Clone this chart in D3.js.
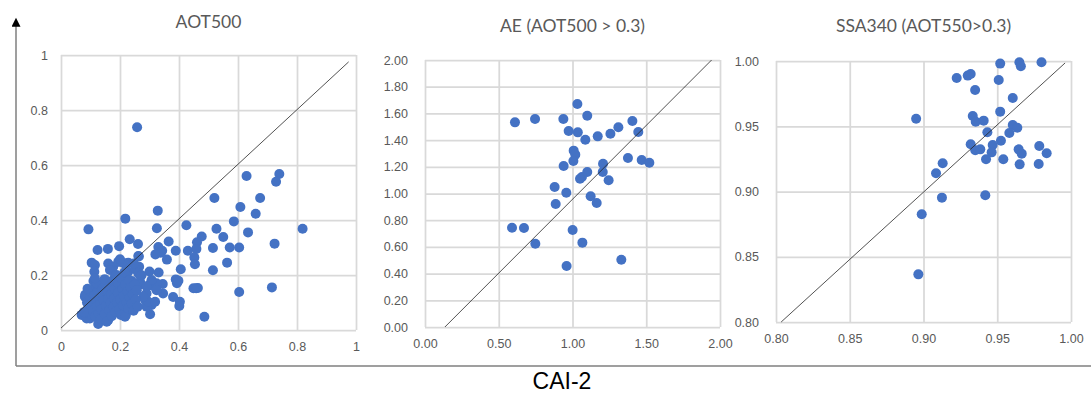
<!DOCTYPE html>
<html>
<head>
<meta charset="utf-8">
<script src="https://cdn.jsdelivr.net/npm/d3@7"></script>
<style>
  body { margin: 0; background: #fff; }
  svg { display: block; font-family: Lato, "Open Sans", sans-serif; }
  .tick text { fill: #595959; font-size: 12.5px; }
</style>
</head>
<body>
<svg id="chart" width="1091" height="394"></svg>
<script>
// panel titles and shared x-axis label
const titles = ['AOT500', 'AE (AOT500 > 0.3)', 'SSA340 (AOT550>0.3)']
const xLabel = 'CAI-2'

// tick values per panel
const aotTicks = [0, 0.2, 0.4, 0.6, 0.8, 1]
const aeXTicks = [0, 0.5, 1, 1.5, 2]
const aeYTicks = [0, 0.2, 0.4, 0.6, 0.8, 1, 1.2, 1.4, 1.6, 1.8, 2]
const ssaTicks = [0.8, 0.85, 0.9, 0.95, 1]

// reference lines
const aotLine = [[0, 0.007], [0.975, 0.975]]
const aeLine = [[0.135, 0], [1.943, 2.0]]
const ssaLine = [[0.8035, 0.8], [0.996, 0.9985]]

// AOT500: CAI-2 vs reference
const aotPoints = [
  [0.258,0.737],[0.629,0.560],[0.740,0.567],[0.729,0.539],[0.520,0.480],[0.675,0.480],
  [0.608,0.447],[0.660,0.423],[0.328,0.434],[0.586,0.395],[0.218,0.405],[0.093,0.366],
  [0.325,0.370],[0.425,0.381],[0.527,0.368],[0.819,0.368],[0.634,0.355],[0.550,0.338],
  [0.477,0.340],[0.461,0.319],[0.365,0.322],[0.724,0.314],[0.233,0.330],[0.261,0.313],
  [0.197,0.305],[0.159,0.295],[0.124,0.291],[0.572,0.300],[0.604,0.300],[0.515,0.298],
  [0.459,0.295],[0.430,0.288],[0.389,0.288],[0.330,0.302],[0.343,0.288],[0.338,0.281],
  [0.320,0.275],[0.452,0.264],[0.454,0.239],[0.563,0.245],[0.359,0.256],[0.406,0.221],
  [0.515,0.217],[0.458,0.152],[0.464,0.153],[0.449,0.152],[0.604,0.138],[0.715,0.155],
  [0.486,0.048],[0.346,0.133],[0.380,0.120],[0.403,0.103],[0.401,0.087],[0.393,0.170],
  [0.389,0.184],[0.398,0.179],[0.331,0.209],[0.300,0.213],[0.307,0.178],[0.300,0.164],
  [0.313,0.160],[0.345,0.167],[0.302,0.057],[0.285,0.109],[0.307,0.091],[0.290,0.085],
  [0.104,0.245],[0.115,0.236],[0.113,0.212],[0.160,0.242],[0.177,0.230],[0.166,0.218],
  [0.200,0.248],[0.183,0.200],[0.228,0.245],[0.228,0.212],[0.262,0.269],[0.265,0.230],
  [0.257,0.218],[0.220,0.182],[0.240,0.178],[0.268,0.200],[0.194,0.248],[0.217,0.242],
  [0.223,0.206],[0.251,0.224],[0.262,0.206],[0.206,0.188],[0.268,0.176],[0.081,0.121],
  [0.093,0.109],[0.070,0.055],[0.098,0.042],[0.126,0.022],[0.160,0.036],[0.220,0.055],
  [0.264,0.267],[0.247,0.242],[0.214,0.242],[0.200,0.257],[0.273,0.199],[0.265,0.164],
  [0.251,0.139],[0.240,0.109],[0.240,0.085],[0.290,0.133],[0.296,0.103],[0.319,0.103],
  [0.324,0.170],[0.324,0.145],[0.307,0.182],[0.290,0.158],[0.279,0.121],[0.223,0.133],
  [0.082,0.128],[0.088,0.100],[0.092,0.080],[0.087,0.042],[0.095,0.060],[0.098,0.118],
  [0.100,0.140],[0.078,0.065],[0.090,0.150],[0.105,0.095],[0.108,0.072],[0.112,0.125],
  [0.115,0.050],[0.118,0.160],[0.120,0.105],[0.122,0.085],[0.125,0.140],[0.128,0.060],
  [0.130,0.118],[0.110,0.178],[0.121,0.170],[0.115,0.188],[0.133,0.095],[0.135,0.040],
  [0.137,0.075],[0.140,0.150],[0.142,0.128],[0.145,0.108],[0.148,0.058],[0.150,0.170],
  [0.152,0.088],[0.155,0.030],[0.158,0.140],[0.160,0.115],[0.148,0.185],[0.163,0.072],
  [0.165,0.160],[0.168,0.098],[0.170,0.130],[0.172,0.050],[0.175,0.180],[0.178,0.085],
  [0.180,0.115],[0.182,0.150],[0.185,0.065],[0.188,0.200],[0.190,0.100],[0.193,0.135],
  [0.195,0.170],[0.198,0.075],[0.200,0.112],[0.203,0.055],[0.205,0.188],[0.208,0.150],
  [0.210,0.090],[0.213,0.125],[0.215,0.210],[0.217,0.048],[0.218,0.165],[0.222,0.100],
  [0.225,0.140],[0.228,0.078],[0.230,0.180],[0.233,0.118],[0.236,0.155],[0.240,0.095],
  [0.243,0.130],[0.246,0.070],[0.250,0.165],[0.253,0.110],[0.257,0.145],[0.260,0.085]
]

// AE (AOT500 > 0.3)
const aePoints = [
  [1.033,1.670],[1.100,1.583],[0.610,1.533],[0.746,1.558],[0.938,1.558],[0.974,1.468],
  [1.036,1.458],[1.087,1.403],[1.171,1.428],[1.257,1.448],[1.311,1.496],[1.406,1.543],
  [1.446,1.461],[1.008,1.321],[1.019,1.291],[1.006,1.243],[0.940,1.206],[1.207,1.223],
  [1.376,1.266],[1.469,1.251],[1.521,1.231],[1.100,1.161],[1.064,1.124],[1.051,1.111],
  [1.205,1.161],[1.245,1.099],[0.879,1.049],[0.958,1.006],[1.123,0.979],[1.164,0.929],
  [0.886,0.921],[0.590,0.744],[0.671,0.741],[1.001,0.727],[0.748,0.624],[1.067,0.632],
  [1.331,0.504],[0.960,0.457]
]

// SSA340 (AOT550 > 0.3)
const ssaPoints = [
  [0.952,0.998],[0.965,0.999],[0.966,0.996],[0.980,0.999],[0.9225,0.987],[0.930,0.9888],
  [0.932,0.990],[0.951,0.9854],[0.935,0.9778],[0.9605,0.9716],[0.952,0.9612],[0.895,0.9558],
  [0.9334,0.9579],[0.9354,0.9535],[0.9408,0.9543],[0.9605,0.951],[0.9636,0.9489],[0.9582,0.9448],
  [0.9433,0.9454],[0.9525,0.9389],[0.932,0.9362],[0.9469,0.9356],[0.9351,0.9316],[0.9385,0.9323],
  [0.9462,0.930],[0.9424,0.9247],[0.9541,0.9247],[0.9645,0.9323],[0.9666,0.929],[0.9785,0.9349],
  [0.9835,0.9293],[0.9652,0.9208],[0.9781,0.9211],[0.913,0.9216],[0.9085,0.914],[0.9125,0.8953],
  [0.9419,0.8971],[0.8988,0.8825],[0.8965,0.8365]
]

const svg = d3.select('#chart')
const dot = '#4472C4'

const panels = [
  {title: titles[0], pts: aotPoints, line: aotLine, xd: [0, 1], yd: [0, 1],
   xt: aotTicks, yt: aotTicks, fmt: d3.format('~g'),
   box: [61, 55, 356, 330], pad: 13, titleY: 24},
  {title: titles[1], pts: aePoints, line: aeLine, xd: [0, 2], yd: [0, 2],
   xt: aeXTicks, yt: aeYTicks, fmt: d3.format('.2f'),
   box: [425, 60, 720, 327], pad: 17, titleY: 28},
  {title: titles[2], pts: ssaPoints, line: ssaLine, xd: [0.8, 1], yd: [0.8, 1],
   xt: ssaTicks, yt: ssaTicks, fmt: d3.format('.2f'),
   box: [776, 61, 1071, 322], pad: 17, titleY: 28},
]

panels.forEach((p) => {
  const [x0, y0, x1, y1] = p.box
  const x = d3.scaleLinear().domain(p.xd).range([x0, x1])
  const y = d3.scaleLinear().domain(p.yd).range([y1, y0])

  const gy = svg.append('g')
    .attr('transform', `translate(${x0},0)`)
    .call(d3.axisLeft(y).tickValues(p.yt).tickFormat(p.fmt)
      .tickSize(-(x1 - x0)).tickPadding(p.pad))
  const gx = svg.append('g')
    .attr('transform', `translate(0,${y1})`)
    .call(d3.axisBottom(x).tickValues(p.xt).tickFormat(p.fmt)
      .tickSize(-(y1 - y0)).tickPadding(12))
  ;[gx, gy].forEach((g) => {
    g.select('.domain').remove()
    g.selectAll('.tick line').attr('stroke', '#d9d9d9').attr('stroke-width', 1.75)
  })

  svg.append('text')
    .attr('x', (x0 + x1) / 2)
    .attr('y', p.titleY)
    .attr('text-anchor', 'middle')
    .attr('dominant-baseline', 'middle')
    .attr('fill', '#595959')
    .style('font-size', '17.5px')
    .text(p.title)

  svg.append('g')
    .selectAll('circle')
    .data(p.pts)
    .join('circle')
    .attr('cx', (d) => x(d[0]))
    .attr('cy', (d) => y(d[1]))
    .attr('r', 5)
    .attr('fill', dot)

  svg.append('path')
    .attr('d', d3.line().x((d) => x(d[0])).y((d) => y(d[1]))(p.line))
    .attr('stroke', '#262626')
    .attr('stroke-width', 0.8)
    .attr('fill', 'none')
})

// outer axes with arrow
svg.append('defs').append('marker')
  .attr('id', 'arrow')
  .attr('viewBox', '0 0 10 10')
  .attr('refX', 3).attr('refY', 5)
  .attr('markerWidth', 6.5).attr('markerHeight', 6)
  .attr('orient', 'auto')
  .append('path').attr('d', 'M0,0L10,5L0,10Z').attr('fill', '#000')

svg.append('line')
  .attr('x1', 16).attr('y1', 366).attr('x2', 16).attr('y2', 24)
  .attr('stroke', '#7f7f7f').attr('stroke-width', 1.5)
  .attr('marker-end', 'url(#arrow)')
svg.append('line')
  .attr('x1', 16).attr('y1', 366).attr('x2', 1091).attr('y2', 366)
  .attr('stroke', '#7f7f7f').attr('stroke-width', 1.5)

svg.append('text')
  .attr('x', 562).attr('y', 389)
  .attr('text-anchor', 'middle')
  .style('font-family', '"Liberation Sans", Arial, sans-serif')
  .style('font-size', '23px')
  .attr('fill', '#000')
  .text(xLabel)
</script>
</body>
</html>
